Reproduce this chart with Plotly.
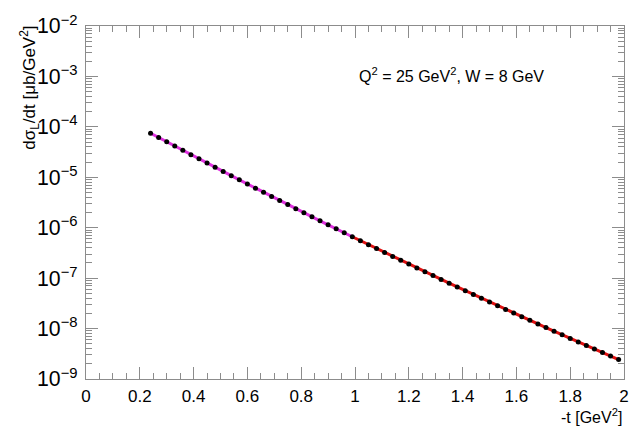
import plotly.graph_objects as go

t_vals = [round(0.24 + 0.03 * k, 2) for k in range(59)]
dsigma = [7.48e-5, 6.14e-5, 5.05e-5, 4.15e-5, 3.42e-5, 2.81e-5, 2.32e-5, 1.91e-5, 1.58e-5, 1.30e-5,
          1.075e-5, 8.89e-6, 7.35e-6, 6.08e-6, 5.04e-6, 4.18e-6, 3.46e-6, 2.87e-6, 2.39e-6, 1.98e-6,
          1.65e-6, 1.37e-6, 1.143e-6, 9.52e-7, 7.94e-7, 6.62e-7, 5.53e-7, 4.62e-7, 3.86e-7, 3.23e-7,
          2.70e-7, 2.27e-7, 1.90e-7, 1.59e-7, 1.336e-7, 1.122e-7, 9.43e-8, 7.93e-8, 6.68e-8, 5.62e-8,
          4.74e-8, 3.99e-8, 3.37e-8, 2.85e-8, 2.40e-8, 2.03e-8, 1.72e-8, 1.456e-8, 1.233e-8, 1.045e-8,
          8.87e-9, 7.52e-9, 6.39e-9, 5.43e-9, 4.62e-9, 3.93e-9, 3.35e-9, 2.85e-9, 2.43e-9]

# fit ranges: low-t fit up to t = 0.99, high-t fit from t = 0.99
split_low = 26   # points 0..25
split_high = 25  # points 25..58

# minor tick positions on the log axis (2..9 in each decade)
minor_yticks = [m * 10.0 ** e for e in range(-9, -2) for m in range(2, 10)]

FONT = "Liberation Sans, Arial, sans-serif"
AX = "#8c8c8c"

fig = go.Figure()
fig.add_trace(go.Scatter(x=t_vals[:split_low], y=dsigma[:split_low], mode="lines",
                         line=dict(color="#e030e0", width=3), hoverinfo="skip"))
fig.add_trace(go.Scatter(x=t_vals[split_high:], y=dsigma[split_high:], mode="lines",
                         line=dict(color="#e01010", width=3), hoverinfo="skip"))
fig.add_trace(go.Scatter(x=t_vals, y=dsigma, mode="markers", marker=dict(color="black", size=5),
                         yaxis="y2"))

fig.update_layout(
    width=641, height=431, showlegend=False,
    paper_bgcolor="white", plot_bgcolor="white",
    margin=dict(l=86, r=17, t=17, b=52),
    font=dict(family=FONT, color="black", size=17),
    xaxis=dict(range=[0, 2], dtick=0.2, tick0=0, ticks="inside", ticklen=12, tickcolor=AX,
               showline=True, linecolor=AX, linewidth=1, mirror="ticks", showgrid=False, zeroline=False,
               tickfont=dict(size=17, family=FONT), ticklabeloverflow="allow", ticklabelstandoff=2,
               minor=dict(ticks="inside", ticklen=6, dtick=0.05, tickcolor=AX, showgrid=False)),
    yaxis=dict(type="log", range=[-9, -2], dtick=1, exponentformat="power", ticks="inside", ticklen=12,
               tickcolor=AX, showline=True, linecolor=AX, linewidth=1, mirror="ticks", showgrid=False,
               zeroline=False, tickfont=dict(size=17, family=FONT), ticklabeloverflow="allow",
               ticklabelstandoff=4),
    yaxis2=dict(type="log", range=[-9, -2], overlaying="y", side="left", tickmode="array",
                tickvals=minor_yticks, showticklabels=False, ticks="inside", ticklen=6,
                tickcolor=AX, mirror="ticks", showline=False, showgrid=False, zeroline=False),
)

fig.add_annotation(xref="paper", yref="paper", x=-0.105, y=1.005, xanchor="center", yanchor="top",
                   textangle=-90, showarrow=False,
                   text="dσ<sub>L</sub>/dt [μb/GeV<sup>2</sup>]", font=dict(size=17, family=FONT))
fig.add_annotation(xref="paper", yref="paper", x=1.0, y=-0.07, xanchor="right", yanchor="top",
                   showarrow=False, text="-t [GeV<sup>2</sup>]", font=dict(size=16, family=FONT))
fig.add_annotation(xref="x", yref="paper", x=1.007, y=0.86, xanchor="left", yanchor="middle",
                   showarrow=False, text="Q<sup>2</sup> = 25 GeV<sup>2</sup>, W = 8 GeV",
                   font=dict(size=16, family=FONT))

fig.write_html("out.html")
